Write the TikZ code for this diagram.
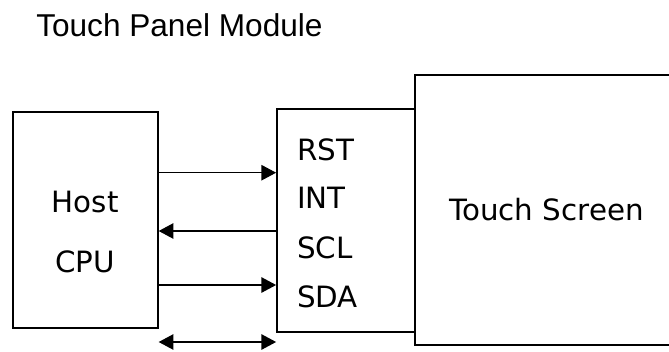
\documentclass[tikz,border=0pt]{standalone}
\usepackage{fontspec}
\setmainfont{DejaVu Sans}
\newfontfamily\titlefont{Liberation Sans}
\usetikzlibrary{arrows.meta}

\begin{document}
\begin{tikzpicture}
[
    x=0.75pt, y=-0.75pt,
    block/.style={draw, line width=1.3pt, inner sep=0pt},
    pin/.style={anchor=base west, font=\fontsize{22}{26}\selectfont, inner sep=0pt},
    sig/.style={line width=1pt, -{Triangle[length=11pt, width=11.5pt]}},
    bus/.style={line width=1pt, {Triangle[length=11pt, width=11.5pt]}-{Triangle[length=11pt, width=11.5pt]}},
]
\clip (0,0) rectangle (669,351);
\node [anchor=base west, inner sep=0pt, font=\titlefont\fontsize{23.7}{28}\selectfont]
    (title) at (36,36.7) {Touch Panel Module};
\node [block, minimum width=108.75pt, minimum height=162.2pt] (host) at (85.3,219.9) {};
\node [font=\fontsize{22}{26}\selectfont, inner sep=0pt, anchor=base] (hostA) at (85.3,212) {Host};
\node [font=\fontsize{22}{26}\selectfont, inner sep=0pt, anchor=base] (hostB) at (85.3,272.7) {CPU};
\node [block, minimum width=103.5pt, minimum height=166.8pt] (ctrl) at (346,220.5) {};
\node [block, minimum width=197.25pt, minimum height=202.5pt,
    font=\fontsize{22}{26}\selectfont] (screen) at (546.5,210) {Touch Screen};
\node [pin] (rst) at (297,160) {RST};
\node [pin] (int) at (297,208.5) {INT};
\node [pin] (scl) at (297,258) {SCL};
\node [pin] (sda) at (297,307) {SDA};
% signal lines
\coordinate (l1) at (0,172.7);
\coordinate (l2) at (0,231);
\coordinate (l3) at (0,285);
\coordinate (l4) at (0,342);
\draw [sig] (host.east |- l1) -- (ctrl.west |- l1);
\draw [sig] (ctrl.west |- l2) -- (host.east |- l2);
\draw [sig] (host.east |- l3) -- (ctrl.west |- l3);
\draw [bus] (host.east |- l4) -- (ctrl.west |- l4);
\end{tikzpicture}
\end{document}
